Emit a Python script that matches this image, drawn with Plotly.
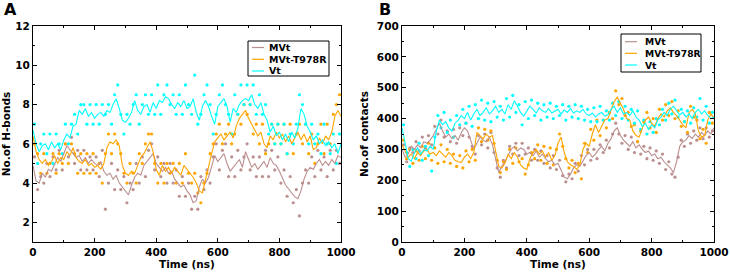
import plotly.graph_objects as go

# ---------------- data ----------------
t_line = list(range(0, 1001, 10))
t_dots = list(range(5, 1000, 10))
series_names = ["MVt", "MVt-T978R", "Vt"]
series_colors = ["#BC8F8F", "#FFA500", "#00FFFF"]

# Panel A: No. of H-bonds (running average lines)
hb_mvt_line = [4.9,4.1,4.0,4.5,4.3,4.7,4.6,5.0,5.3,5.1,5.5,5.9,5.7,5.5,5.3,5.4,5.1,5.3,5.0,5.2,
               5.0,4.9,5.1,4.6,4.4,4.5,4.2,4.4,4.0,3.8,3.6,3.4,3.9,4.3,4.5,4.4,4.9,5.1,5.3,5.5,
               5.0,4.8,4.6,4.8,4.5,4.6,4.2,4.0,3.8,3.9,3.6,3.4,3.0,3.1,3.8,4.2,4.0,4.3,4.9,5.4,
               5.1,5.3,5.5,5.0,4.6,4.8,5.0,5.2,4.8,5.6,5.2,4.8,5.0,4.7,4.9,5.1,4.8,5.3,5.0,4.9,
               4.6,4.2,3.9,3.7,3.5,3.3,3.2,3.6,4.2,4.6,4.8,4.7,5.0,5.2,4.9,5.1,4.9,5.2,5.0,5.4,5.3]
hb_mut_line = [6.4,5.6,5.2,5.0,5.2,4.9,5.1,5.4,5.0,5.3,5.2,5.6,5.4,5.8,5.3,5.1,5.0,5.2,4.9,5.0,
               4.8,4.9,4.7,5.0,5.8,6.1,6.0,6.2,5.9,4.9,4.5,4.4,4.6,4.5,4.9,5.3,5.5,5.8,6.1,5.6,
               4.7,4.4,4.9,4.6,4.8,4.5,4.8,4.6,4.4,4.9,4.7,4.5,4.3,4.0,3.6,3.5,4.2,4.8,5.5,6.1,
               6.3,6.5,6.2,6.4,6.6,6.3,6.9,7.3,7.5,7.7,7.3,7.0,6.7,6.4,6.6,6.0,5.8,6.4,6.2,6.6,
               6.3,6.5,6.1,6.4,6.0,6.3,6.6,6.2,6.5,6.1,6.4,5.7,5.8,6.3,6.0,6.4,6.2,6.6,7.4,7.7,7.4]
hb_vt_line = [6.7,6.0,5.6,5.9,6.0,5.7,6.1,5.8,6.0,5.7,6.2,6.5,6.3,6.9,7.0,7.7,7.5,7.8,7.4,7.6,
              7.3,7.5,7.6,7.4,7.7,7.6,8.0,8.3,7.8,7.2,7.1,7.3,7.6,8.2,7.7,7.5,7.9,8.0,7.6,8.1,
              7.8,8.2,8.1,8.4,8.3,8.0,7.8,8.1,7.9,8.2,7.8,7.9,8.3,7.6,7.2,7.9,8.2,7.9,7.4,7.0,
              7.9,8.1,8.3,7.9,7.1,7.8,7.6,8.0,8.2,8.3,8.2,8.5,8.0,7.8,8.1,7.5,7.2,6.6,6.9,6.4,
              6.6,6.2,6.5,6.1,6.6,6.3,6.8,7.8,7.5,6.9,6.6,6.2,6.4,6.0,6.2,5.9,6.1,5.8,6.0,5.5,6.0]
# Panel A raw points
hb_mvt_dots = [5.33,3.67,4.33,4.0,5.0,4.33,5.33,4.67,5.67,4.67,6.0,5.33,6.33,5.0,5.67,4.67,5.67,4.67,5.33,4.67,
               5.33,4.33,5.67,2.67,4.0,5.0,3.67,4.67,3.67,4.33,3.0,4.0,3.67,5.0,4.0,5.33,4.33,5.67,6.0,4.67,
               5.33,4.33,5.0,4.0,5.0,4.0,4.67,3.33,4.33,3.33,4.0,2.67,3.33,2.67,4.33,3.67,4.67,4.0,5.33,6.0,
               4.67,5.67,6.0,4.33,5.33,4.33,5.67,4.67,5.33,6.0,4.67,5.33,4.33,5.33,4.33,5.67,4.33,5.67,4.67,5.33,
               4.0,4.67,3.33,4.33,3.0,3.67,2.33,4.0,4.67,4.0,5.33,4.33,5.67,4.67,5.33,4.33,5.67,4.67,5.67,5.0]
hb_mut_dots = [6.0,5.5,4.5,5.5,4.5,5.0,5.5,4.5,5.5,5.0,6.0,5.0,6.0,5.5,4.5,5.5,4.5,5.5,4.5,5.5,
               4.5,5.0,4.0,5.5,6.5,5.5,6.5,6.0,5.5,4.5,4.0,5.0,4.5,4.0,5.5,5.0,6.0,6.5,6.5,5.0,
               4.0,5.0,4.0,5.0,4.5,5.0,4.0,5.0,4.0,5.5,4.5,4.0,4.5,3.5,3.0,4.0,4.5,5.5,6.0,6.5,
               7.0,6.0,6.5,7.0,6.0,6.5,7.5,7.0,8.0,7.5,8.0,6.5,7.0,6.0,7.0,5.5,6.0,7.0,6.0,7.0,
               6.0,7.0,5.5,7.0,5.5,6.5,7.0,6.0,7.0,5.5,6.5,5.0,6.0,7.0,5.5,7.0,6.0,7.5,8.0,8.5]
hb_vt_dots = [7.0,5.0,6.0,6.5,5.5,6.5,5.0,6.5,6.0,5.5,7.0,6.0,7.0,7.5,6.5,8.0,8.0,7.0,8.0,7.0,
              8.0,7.0,8.0,7.5,8.0,7.0,8.5,9.0,7.5,6.5,7.5,7.0,8.0,8.5,7.0,8.0,8.5,7.5,8.5,7.5,
              9.0,7.5,8.5,9.0,8.0,8.5,7.5,8.5,7.5,9.0,8.0,7.5,9.5,7.0,7.5,8.5,9.0,8.0,6.5,7.5,
              8.5,9.0,8.0,7.5,6.5,8.5,7.5,9.0,8.0,9.0,8.0,9.0,7.5,8.5,7.5,8.0,6.5,7.0,6.0,7.0,
              6.0,7.0,5.5,6.5,6.0,7.0,8.5,8.0,7.0,6.0,7.0,6.0,6.5,5.5,7.0,6.0,5.5,6.5,5.0,6.5]

# Panel B: No. of contacts (running average lines)
ct_mvt_line = [300,275,285,310,300,315,305,325,320,330,345,365,385,360,340,350,335,345,330,355,
               370,360,330,300,320,340,330,325,340,315,270,225,245,260,280,300,310,295,305,300,
               285,290,280,295,275,285,270,260,265,250,255,230,210,205,220,240,250,245,265,280,
               290,275,285,300,310,295,320,335,360,370,345,330,320,310,325,305,315,300,290,295,
               280,285,270,275,260,250,240,225,260,310,325,330,345,335,350,340,355,345,360,350,370]
ct_mut_line = [315,295,275,285,270,290,280,295,300,285,290,280,295,285,275,290,280,265,260,258,
               275,285,270,290,355,345,335,350,340,345,300,245,240,255,285,270,290,275,250,240,
               235,270,290,300,285,295,275,290,265,280,320,340,290,260,250,245,235,250,300,320,
               310,350,380,355,375,395,400,430,455,470,450,430,400,395,360,345,340,370,395,405,
               385,375,400,415,405,425,435,420,410,395,380,370,420,430,415,360,340,345,395,415,400]
ct_vt_line = [370,320,270,262,290,305,285,300,295,310,300,360,395,380,390,370,360,385,395,410,
              400,420,395,415,430,410,420,435,415,425,440,420,430,415,445,430,458,440,420,408,
              425,440,430,418,435,425,420,432,418,425,430,415,428,420,432,418,425,420,430,415,
              410,418,405,415,420,408,412,430,440,420,435,415,420,410,425,405,395,375,385,365,
              380,370,395,405,420,410,430,440,425,412,420,405,415,400,420,430,415,425,410,400,405]
# Panel B raw points
ct_mvt_dots = [315,260,305,290,325,295,340,305,345,315,375,350,395,340,360,325,365,320,370,345,
               385,340,310,285,345,315,350,305,355,290,240,210,265,240,310,285,320,280,320,285,
               305,265,300,265,295,255,280,240,280,235,265,215,195,220,205,255,230,280,250,300,
               265,300,270,315,290,330,305,350,385,350,320,345,300,340,290,325,285,310,270,305,
               265,295,255,285,235,260,220,210,275,330,310,350,320,360,330,370,335,370,340,360]
ct_mut_dots = [330,270,300,255,295,265,310,270,320,265,305,255,315,260,300,255,285,245,280,240,
               295,260,300,265,370,325,365,330,360,320,265,225,260,235,300,255,305,260,270,220,
               250,290,270,315,265,310,255,305,250,300,350,310,270,240,265,225,255,205,320,290,
               365,330,395,345,395,370,420,400,490,445,465,410,420,375,380,325,360,390,420,370,
               400,355,430,395,445,410,455,400,425,375,390,355,440,405,395,335,365,320,420,385]
ct_vt_dots = [380,290,245,300,270,320,265,310,280,230,340,410,370,420,355,395,340,410,380,430,
              385,440,375,445,400,460,395,450,390,455,405,440,395,465,405,475,420,445,380,455,
              400,460,410,450,395,445,405,450,400,440,410,445,395,440,405,445,400,440,395,430,
              390,435,390,440,395,425,395,450,410,455,400,440,395,430,385,425,365,395,350,390,
              355,400,380,430,395,450,415,460,405,430,390,425,385,435,405,465,395,440,385,420]

# ---------------- figure ----------------
W, H = 730, 274
def px(x):
    return x / W
def py(y):
    return (H - y) / H

fig = go.Figure()

panels = [
    ("x", "y", [hb_mvt_line, hb_mut_line, hb_vt_line], [hb_mvt_dots, hb_mut_dots, hb_vt_dots]),
    ("x2", "y2", [ct_mvt_line, ct_mut_line, ct_vt_line], [ct_mvt_dots, ct_mut_dots, ct_vt_dots]),
]
for xa, ya, lines, dots in panels:
    for name, col, d in zip(series_names, series_colors, dots):
        fig.add_trace(go.Scatter(x=t_dots, y=d, mode="markers", xaxis=xa, yaxis=ya,
                                 marker=dict(color=col, size=3.2), showlegend=False, hoverinfo="skip"))
    for name, col, ln in zip(series_names, series_colors, lines):
        fig.add_trace(go.Scatter(x=t_line, y=ln, mode="lines", name=name, xaxis=xa, yaxis=ya,
                                 line=dict(color=col, width=1.1), showlegend=False))

FONT = "DejaVu Sans"
tickfont = dict(family=FONT, size=10.5, color="black", weight="bold")
titlefont = dict(family=FONT, size=10.5, color="black", weight="bold")

def axis_common(**kw):
    d = dict(showline=True, linecolor="black", linewidth=1.3, mirror="ticks",
             ticks="inside", ticklen=4, tickwidth=1, tickcolor="black",
             minor=dict(ticks="inside", ticklen=2, tickcolor="black", showgrid=False),
             showgrid=False, zeroline=False, tickfont=tickfont, automargin=False)
    d.update(kw)
    return d

ydom = [py(242), py(26)]
fig.update_layout(
    width=W, height=H, margin=dict(l=0, r=0, t=0, b=0),
    plot_bgcolor="white", paper_bgcolor="white", showlegend=False,
    xaxis=axis_common(domain=[px(33), px(341)], anchor="y", range=[0, 1000], dtick=200, tick0=0,
                      minor_dtick=100, title=dict(text="Time (ns)", font=titlefont, standoff=2)),
    yaxis=axis_common(domain=ydom, anchor="x", range=[1, 12], dtick=2, tick0=0,
                      minor_dtick=1, title=dict(text="No.of H-bonds", font=titlefont, standoff=4)),
    xaxis2=axis_common(domain=[px(402), px(714)], anchor="y2", range=[0, 1000], dtick=200, tick0=0,
                       minor_dtick=100, title=dict(text="Time (ns)", font=titlefont, standoff=2)),
    yaxis2=axis_common(domain=ydom, anchor="x2", range=[0, 700], dtick=100, tick0=0,
                       minor_dtick=50, title=dict(text="No.of contacts", font=titlefont, standoff=6)),
)

# Panel letters
for letter, x0 in (("A", 2), ("B", 377)):
    fig.add_annotation(text=letter, x=px(x0), y=py(-2), xref="paper", yref="paper",
                       xanchor="left", yanchor="top", showarrow=False,
                       font=dict(family=FONT, size=16, color="black", weight="bold"))

# Hand-drawn legends (compact boxes as in the reference)
legend_specs = [
    # box x0, x1, y0, y1, line x0, x1, text x, row ys, font size
    (248, 329, 41, 76, 252, 264, 267, (47.5, 59.3, 71), 9.5),
    (621, 701, 34, 72, 625, 637, 643, (41.7, 53.3, 65), 9.2),
]
for bx0, bx1, by0, by1, lx0, lx1, tx, rows, fs in legend_specs:
    fig.add_shape(type="rect", xref="paper", yref="paper",
                  x0=px(bx0), x1=px(bx1), y0=py(by1), y1=py(by0),
                  line=dict(color="black", width=1), fillcolor="white", layer="above")
    for name, col, ry in zip(series_names, series_colors, rows):
        fig.add_shape(type="line", xref="paper", yref="paper",
                      x0=px(lx0), x1=px(lx1), y0=py(ry), y1=py(ry),
                      line=dict(color=col, width=1.2), layer="above")
        fig.add_annotation(text=name, x=px(tx), y=py(ry), xref="paper", yref="paper",
                           xanchor="left", yanchor="middle", showarrow=False,
                           font=dict(family=FONT, size=fs, color="black", weight="bold"))

fig.write_html("out.html")
